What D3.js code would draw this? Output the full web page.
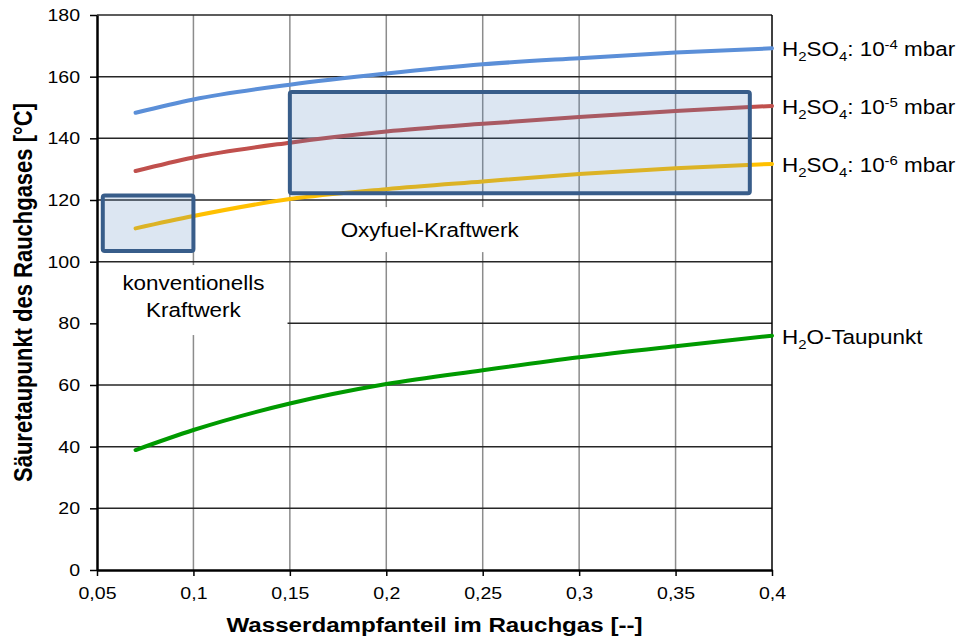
<!DOCTYPE html>
<html>
<head>
<meta charset="utf-8">
<script src="https://cdn.jsdelivr.net/npm/d3@7"></script>
<style>
  body { margin: 0; background: #fff; }
  text { font-family: "Liberation Sans", Arial, sans-serif; fill: #000; }
</style>
</head>
<body>
<div id="chart"></div>
<script>
// water vapour fraction and dew points
const xValues = [0.07, 0.1, 0.15, 0.2, 0.25, 0.3, 0.35, 0.4];
const h2so4_4 = [148.3, 152.6, 157.4, 161.0, 164.0, 166.0, 167.8, 169.2];
const h2so4_5 = [129.4, 133.8, 138.6, 142.2, 144.7, 146.9, 148.9, 150.5];
const h2so4_6 = [110.8, 114.8, 120.3, 123.5, 126.0, 128.4, 130.3, 131.7];
const h2oDew  = [38.9, 45.4, 54.0, 60.3, 64.8, 69.0, 72.6, 76.0];

const xTicks = [0.05, 0.1, 0.15, 0.2, 0.25, 0.3, 0.35, 0.4];
const yTicks = [0, 20, 40, 60, 80, 100, 120, 140, 160, 180];

// operating ranges (x range, y range)
const konvRange = [[0.053, 0.1], [103.5, 121.5]];
const oxyRange = [[0.15, 0.3885], [122.2, 155]];

const seriesLabels = [
	[["H"], ["2", "sub"], ["SO"], ["4", "sub"], [": 10"], ["-4", "sup"], [" mbar"]],
	[["H"], ["2", "sub"], ["SO"], ["4", "sub"], [": 10"], ["-5", "sup"], [" mbar"]],
	[["H"], ["2", "sub"], ["SO"], ["4", "sub"], [": 10"], ["-6", "sup"], [" mbar"]],
	[["H"], ["2", "sub"], ["O-Taupunkt"]]
];

const series = [
	{ values: h2so4_4, colour: "#5b8fd8" },
	{ values: h2so4_5, colour: "#c0504d" },
	{ values: h2so4_6, colour: "#ffc000" },
	{ values: h2oDew, colour: "#009a00" }
];

const W = 963, H = 638;
const sx = 1.15; // text in the picture is a bit wide

const svg = d3.select("#chart").append("svg")
	.attr("width", W)
	.attr("height", H);

const x = d3.scaleLinear().domain([0.05, 0.4]).range([97, 772]);
const y = d3.scaleLinear().domain([0, 180]).range([570, 15]);

// grid
svg.append("g").selectAll("line")
	.data(xTicks.slice(1, -1)).enter()
	.append("line")
	.attr("x1", d => x(d)).attr("x2", d => x(d))
	.attr("y1", y(0)).attr("y2", y(180))
	.attr("stroke", "#8c8c8c").attr("stroke-width", 1.5);

svg.append("g").selectAll("line")
	.data(yTicks.slice(1)).enter()
	.append("line")
	.attr("x1", x(0.05)).attr("x2", x(0.4))
	.attr("y1", d => y(d)).attr("y2", d => y(d))
	.attr("stroke", "#262626").attr("stroke-width", 1.5);

svg.append("line")
	.attr("x1", x(0.4)).attr("x2", x(0.4))
	.attr("y1", y(0)).attr("y2", y(180))
	.attr("stroke", "#000").attr("stroke-width", 1.5);

// white label boxes
svg.append("rect")
	.attr("x", x(0.0505)).attr("y", y(117.7))
	.attr("width", x(0.1495) - x(0.0505)).attr("height", y(103.1) - y(117.7))
	.attr("fill", "#fff");
svg.append("rect")
	.attr("x", x(0.151)).attr("y", y(117.7))
	.attr("width", x(0.299) - x(0.151)).attr("height", y(103.1) - y(117.7))
	.attr("fill", "#fff");
svg.append("rect")
	.attr("x", x(0.0505)).attr("y", y(98.9))
	.attr("width", x(0.1488) - x(0.0505)).attr("height", y(76.2) - y(98.9))
	.attr("fill", "#fff");

function wideText(g, px, py, anchor, size, weight, str) {
	return g.append("text")
		.attr("transform", `translate(${px},${py}) scale(${sx},1)`)
		.attr("text-anchor", anchor)
		.style("font-size", size + "px")
		.style("font-weight", weight)
		.text(str);
}

wideText(svg, x(0.2225), y(108.1), "middle", 19.5, "normal", "Oxyfuel-Kraftwerk");
wideText(svg, x(0.1), 290, "middle", 19.5, "normal", "konventionells");
wideText(svg, x(0.1), 317, "middle", 19.5, "normal", "Kraftwerk");

// curves
let line = d3.line()
	.x((d, i) => x(xValues[i]))
	.y(d => y(d))
	.curve(d3.curveMonotoneX);

svg.append("g").selectAll("path")
	.data(series).enter()
	.append("path")
	.attr("d", d => line(d.values))
	.attr("fill", "none")
	.attr("stroke", d => d.colour)
	.attr("stroke-width", 4)
	.attr("stroke-linecap", "round");

// range boxes
[konvRange, oxyRange].forEach(r => {
	svg.append("rect")
		.attr("x", x(r[0][0])).attr("y", y(r[1][1]))
		.attr("width", x(r[0][1]) - x(r[0][0]))
		.attr("height", y(r[1][0]) - y(r[1][1]))
		.attr("rx", 2)
		.attr("fill", "#4f81bd").attr("fill-opacity", 0.2)
		.attr("stroke", "#385d8a").attr("stroke-width", 4);
});

// axes
let yAxis = svg.append("g")
	.attr("transform", `translate(${x(0.05)},0)`)
	.call(d3.axisLeft(y).tickValues(yTicks).tickSize(7).tickSizeOuter(0).tickFormat(d3.format("d")));
let xAxis = svg.append("g")
	.attr("transform", `translate(0,${y(0)})`)
	.call(d3.axisBottom(x).tickValues(xTicks).tickSize(6).tickSizeOuter(0)
		.tickFormat(d => String(d).replace(".", ",")));

[yAxis, xAxis].forEach(a => {
	a.select(".domain").attr("stroke", "#000").attr("stroke-width", 2.5);
	a.selectAll(".tick line").attr("stroke", "#000").attr("stroke-width", 1.5);
	a.selectAll("text")
		.style("font-family", "'Liberation Sans', Arial, sans-serif")
		.style("font-size", "17px")
		.attr("fill", "#000");
});
yAxis.selectAll("text").attr("x", 0).attr("transform", `translate(-17,0) scale(${sx},1)`);
xAxis.selectAll("text").attr("y", 17).attr("transform", `scale(${sx},1)`);

// series labels at the line ends
seriesLabels.forEach((parts, k) => {
	let vals = series[k].values;
	let t = svg.append("text")
		.attr("transform", `translate(${x(0.4) + 10},${y(vals[vals.length - 1]) + 8}) scale(${sx},1)`)
		.style("font-size", "19.5px");
	let shift = 0;
	parts.forEach(p => {
		let target = p[1] === "sub" ? 5 : p[1] === "sup" ? -7 : 0;
		t.append("tspan")
			.attr("dy", target - shift)
			.style("font-size", p[1] ? "13px" : "19.5px")
			.text(p[0]);
		shift = target;
	});
});

// axis titles
wideText(svg, (x(0.05) + x(0.4)) / 2, 632, "middle", 21, "bold", "Wasserdampfanteil im Rauchgas [--]");
svg.append("text")
	.attr("transform", `translate(32,${(y(0) + y(180)) / 2}) scale(${sx},1) rotate(-90)`)
	.attr("text-anchor", "middle")
	.style("font-size", "22px")
	.style("font-weight", "bold")
	.text("Säuretaupunkt des Rauchgases [°C]");
</script>
</body>
</html>
